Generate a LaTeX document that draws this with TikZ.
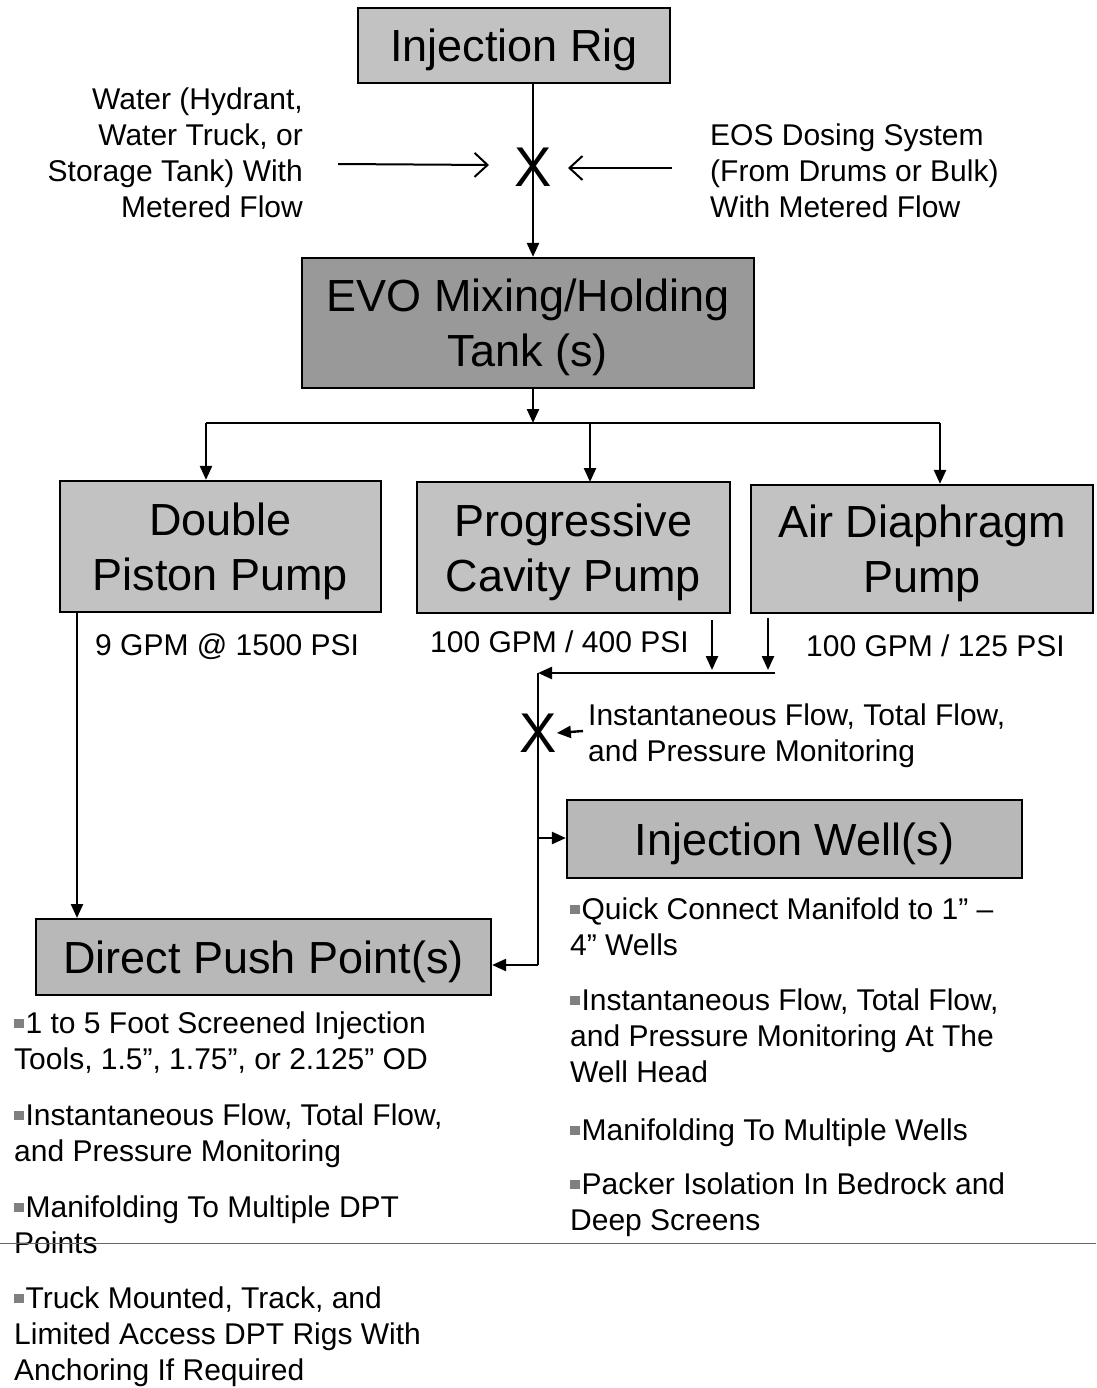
\documentclass[tikz,border=0pt]{standalone}
\usepackage{fontspec}
\setmainfont{Liberation Sans}
\usetikzlibrary{arrows.meta}
\newcommand{\bodyf}{\fontsize{30}{36}\selectfont}
\newcommand{\titlef}{\fontsize{45}{55}\selectfont}
\newcommand{\bul}{{\color{black!50}\raisebox{0.16em}{\rule{0.32em}{0.32em}}}\hspace{0.06em}}
\begin{document}
\begin{tikzpicture}[x=1pt,y=-1pt,
  box/.style={draw=black,line width=2.2pt,inner sep=0pt,align=center,font=\titlef,text depth=0pt},
  conn/.style={line width=2.4pt},
  tri/.style={conn,-{Triangle[length=14pt,width=12pt]}},
  barb/.style={line width=2pt,-{Straight Barb[length=13pt,width=24pt]}},
  txt/.style={inner sep=0pt,font=\bodyf,align=left,anchor=base west},
  xmark/.style={inner sep=0pt,font=\fontsize{56}{56}\selectfont}]
\useasboundingbox (0,0) rectangle (1096,1388);
\fill[white] (0,0) rectangle (1096,1388);
% boxes
\node[box,fill=black!24,minimum width=312pt,minimum height=75pt] (rig) at (514,45.5) {Injection Rig};
\node[box,fill=black!40,minimum width=452pt,minimum height=130pt] (tank) at (528,323) {EVO Mixing/Holding\\Tank (s)};
\node[box,fill=black!24,minimum width=321pt,minimum height=131pt] (dpp) at (220.5,546.5) {Double\\Piston Pump};
\node[box,fill=black!24,minimum width=313pt,minimum height=131pt] (pcp) at (573.5,547.5) {Progressive\\Cavity Pump};
\node[box,fill=black!24,minimum width=342pt,minimum height=128pt] (adp) at (922,549) {Air Diaphragm\\Pump};
\node[box,fill=black!28,minimum width=455pt,minimum height=78pt] (well) at (794.5,839) {Injection Well(s)};
\node[box,fill=black!28,minimum width=455pt,minimum height=76pt] (dpush) at (263.5,957) {Direct Push Point(s)};
% X marks
\node[xmark] (x1) at (533,167) {X};
\node[xmark] (x2) at (538,733) {X};
% side texts
\node[txt,align=right,anchor=base east] (water) at (303,218) {Water (Hydrant,\\Water Truck, or\\Storage Tank) With\\Metered Flow};
\node[txt] (eos) at (710,218) {EOS Dosing System\\(From Drums or Bulk)\\With Metered Flow};
% top connectors
\draw[conn] (rig.south -| x1) -- (x1.center);
\draw[tri] (x1.center) -- (x1 |- tank.north);
\coordinate (wa) at (338,164);
\coordinate (wb) at (489,165);
\draw[barb] (wa) -- (wb);
\coordinate (ea) at (672,168);
\coordinate (eb) at (568,168);
\draw[barb] (ea) -- (eb);
% tank to pumps
\coordinate (hub) at (533,423);
\coordinate (hl) at (206,423);
\coordinate (hr) at (940,423);
\draw[tri] (tank.south -| hub) -- (hub);
\draw[conn] (hl) -- (hr);
\draw[tri] (hl) -- (hl |- dpp.north);
\draw[tri] (590,423) -- (590,482);
\draw[tri] (hr) -- (hr |- adp.north);
% pump labels
\node[txt] (l1) at (95,655) {9 GPM @ 1500 PSI};
\node[txt] (l2) at (430,652) {100 GPM / 400 PSI};
\node[txt] (l3) at (806,656) {100 GPM / 125 PSI};
% double piston to direct push
\draw[tri] (77,612) -- (77,918);
% pcp / adp down arrows
\draw[tri] (712,620) -- (712,670);
\draw[tri] (768,618) -- (768,670);
\coordinate (mr) at (775,673);
\coordinate (ml) at (538,673);
\draw[tri] (mr) -- (ml);
\draw[conn] (ml) -- (538,965);
\coordinate (mon) at (583,731);
\draw[tri] (mon) -- (x2.east);
\node[txt] (monT) at (588,761) {Instantaneous Flow, Total Flow,\\and Pressure Monitoring};
\coordinate (wj) at (538,838);
\draw[tri] (wj) -- (wj -| well.west);
\coordinate (dj) at (538,965);
\draw[tri] (dj) -- (dj -| dpush.east);
% bullets left
\node[txt] (b1) at (14,1069) {\bul 1 to 5 Foot Screened Injection\\Tools, 1.5”, 1.75”, or 2.125” OD};
\node[txt] (b2) at (14,1161) {\bul Instantaneous Flow, Total Flow,\\and Pressure Monitoring};
\node[txt] (b3) at (14,1253) {\bul Manifolding To Multiple DPT\\Points};
\node[txt] (b4) at (14,1380) {\bul Truck Mounted, Track, and\\Limited Access DPT Rigs With\\Anchoring If Required};
% bullets right
\node[txt] (r1) at (570,955) {\bul Quick Connect Manifold to 1” –\\4” Wells};
\node[txt] (r2) at (570,1082) {\bul Instantaneous Flow, Total Flow,\\and Pressure Monitoring At The\\Well Head};
\node[txt] (r3) at (570,1140) {\bul Manifolding To Multiple Wells};
\node[txt] (r4) at (570,1230) {\bul Packer Isolation In Bedrock and\\Deep Screens};
% page line
\draw[black!60,line width=1pt] (0,1243) -- (1096,1243);
\end{tikzpicture}
\end{document}
